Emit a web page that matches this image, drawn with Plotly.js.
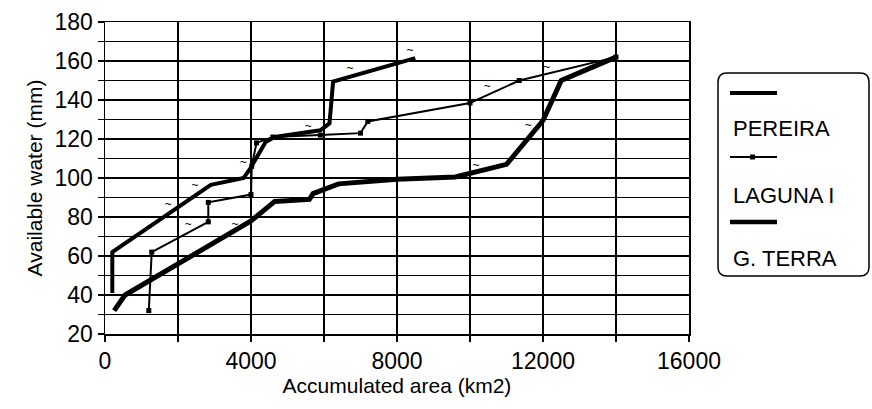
<!DOCTYPE html>
<html>
<head>
<meta charset="utf-8">
<script src="https://cdn.plot.ly/plotly-3.0.1.min.js"></script>
<style>html,body{margin:0;padding:0;background:#fff;}#chart{width:872px;height:409px;}</style>
</head>
<body>
<div id="chart"></div>
<script>
// ---- data ----
const seriesNames = ["PEREIRA", "LAGUNA I", "G. TERRA"];
const areaPereira  = [200, 200, 2900, 3800, 4000, 4400, 4650, 5900, 6150, 6250, 8500];
const waterPereira = [41, 62, 96.5, 100, 105.5, 118.5, 121, 124.5, 128, 149.5, 161.5];
const areaLaguna   = [1200, 1280, 2830, 2830, 4000, 4020, 4150, 4600, 5900, 7000, 7200, 10000, 11350, 14000];
const waterLaguna  = [32, 62, 77.5, 87.5, 91.5, 106, 118, 121, 122, 123, 129, 138.5, 150, 162];
const areaGTerra   = [250, 550, 4000, 4650, 5600, 5700, 6400, 8000, 9600, 11000, 12000, 12500, 14000];
const waterGTerra  = [32, 40, 78, 88, 89, 92, 97, 99.3, 100.5, 107, 129.5, 150, 162];
// small "~" labels printed next to the curves
const tildeArea  = [1734, 2466, 2282, 3562, 3789, 5570, 6712, 8356, 10164, 10474, 11597, 12101];
const tildeWater = [86.2, 95.8, 75.9, 75.9, 107.5, 126.3, 155.7, 165.3, 106.2, 146.5, 126.7, 156.3];
const xTitle = "Accumulated area (km2)";
const yTitle = "Available water (mm)";

// ---- layout helpers ----
const W = 872, H = 409;
const M = {l: 105, r: 183, t: 22, b: 75};
const PW = W - M.l - M.r, PH = H - M.t - M.b;
const X = px => (px - M.l) / PW;
const Y = py => (H - M.b - py) / PH;
const FONT = "Liberation Sans, Arial, Helvetica, sans-serif";

const traces = [
  {x: areaPereira, y: waterPereira, name: seriesNames[0], mode: "lines",
   line: {color: "#000", width: 4}},
  {x: areaLaguna, y: waterLaguna, name: seriesNames[1], mode: "lines+markers",
   line: {color: "#000", width: 2}, marker: {symbol: "square", size: 5, color: "#000"}},
  {x: areaGTerra, y: waterGTerra, name: seriesNames[2], mode: "lines",
   line: {color: "#000", width: 5}},
  {x: tildeArea, y: tildeWater, mode: "text", text: tildeArea.map(() => "~"),
   textfont: {family: FONT, size: 12, color: "#000"}, hoverinfo: "skip"}
];

// legend drawn as a box with sample lines above each name
function roundRect(x0, y0, x1, y1, r) {
  const p = [];
  p.push(`M ${X(x0 + r)} ${Y(y0)}`);
  p.push(`L ${X(x1 - r)} ${Y(y0)}`);
  p.push(`Q ${X(x1)} ${Y(y0)} ${X(x1)} ${Y(y0 + r)}`);
  p.push(`L ${X(x1)} ${Y(y1 - r)}`);
  p.push(`Q ${X(x1)} ${Y(y1)} ${X(x1 - r)} ${Y(y1)}`);
  p.push(`L ${X(x0 + r)} ${Y(y1)}`);
  p.push(`Q ${X(x0)} ${Y(y1)} ${X(x0)} ${Y(y1 - r)}`);
  p.push(`L ${X(x0)} ${Y(y0 + r)}`);
  p.push(`Q ${X(x0)} ${Y(y0)} ${X(x0 + r)} ${Y(y0)} Z`);
  return p.join(" ");
}
const legRows = [
  {lineY: 93, textY: 128, w: 4, dot: false},
  {lineY: 157, textY: 195, w: 2, dot: true},
  {lineY: 222, textY: 258, w: 4.5, dot: false}
];
const shapes = [{type: "path", xref: "paper", yref: "paper",
  path: roundRect(718, 73, 869, 276, 9), line: {color: "#000", width: 1.5}}];
const annotations = [];
legRows.forEach((r, i) => {
  shapes.push({type: "line", xref: "paper", yref: "paper",
    x0: X(730), x1: X(777), y0: Y(r.lineY), y1: Y(r.lineY), line: {color: "#000", width: r.w}});
  if (r.dot) shapes.push({type: "rect", xref: "paper", yref: "paper",
    x0: X(750), x1: X(755), y0: Y(r.lineY - 2.5), y1: Y(r.lineY + 2.5),
    fillcolor: "#000", line: {color: "#000", width: 0}});
  annotations.push({xref: "paper", yref: "paper", x: X(731), y: Y(r.textY),
    xanchor: "left", yanchor: "middle", showarrow: false, text: seriesNames[i],
    font: {family: FONT, size: 22, color: "#000"}});
});

const axisCommon = {
  showline: true, linecolor: "#000", linewidth: 1.5, mirror: true,
  showgrid: true, gridcolor: "#000", gridwidth: 1.2, zeroline: false,
  ticks: "outside", ticklen: 6, tickcolor: "#000", tickwidth: 1.2,
  tickformat: "d",
  tickfont: {family: FONT, size: 23, color: "#000"}
};
const layout = {
  width: W, height: H, margin: M, showlegend: false,
  paper_bgcolor: "#fff", plot_bgcolor: "#fff",
  font: {family: FONT, color: "#000"},
  xaxis: Object.assign({}, axisCommon, {
    range: [0, 16000], tick0: 0, dtick: 4000, autorange: false,
    minor: {dtick: 2000, showgrid: true, gridcolor: "#000", gridwidth: 1.2,
            ticks: "outside", ticklen: 6, tickcolor: "#000"},
    title: {text: xTitle, font: {family: FONT, size: 21, color: "#000"}, standoff: 2}
  }),
  yaxis: Object.assign({}, axisCommon, {
    range: [20, 180], tick0: 20, dtick: 20, autorange: false,
    minor: {dtick: 10, showgrid: true, gridcolor: "#000", gridwidth: 1.2,
            ticks: "outside", ticklen: 6, tickcolor: "#000"},
    title: {text: yTitle, font: {family: FONT, size: 21, color: "#000"}, standoff: 6}
  }),
  shapes: shapes, annotations: annotations
};
Plotly.newPlot("chart", traces, layout, {staticPlot: true, displayModeBar: false});
</script>
</body>
</html>
